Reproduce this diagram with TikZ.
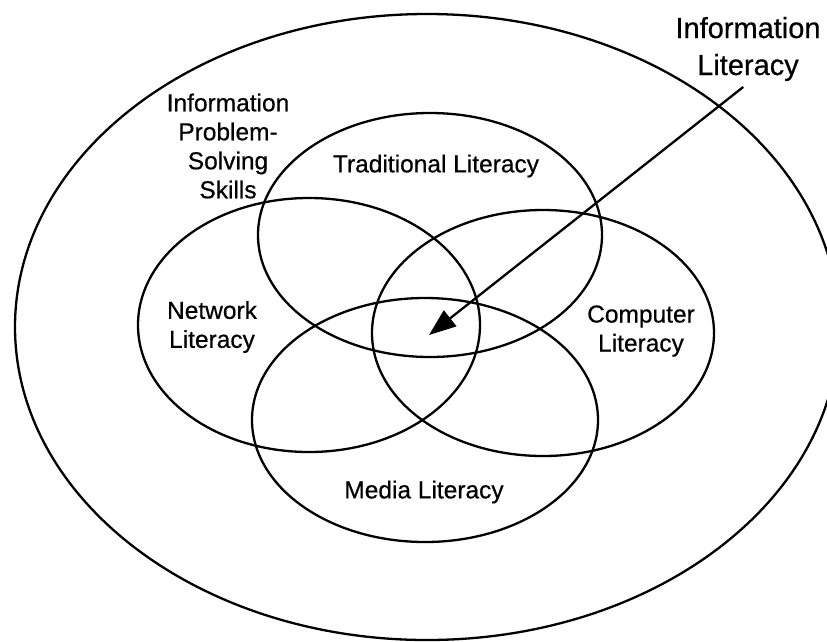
\documentclass[tikz,border=0pt]{standalone}
\usepackage{fontspec}
\setmainfont{Liberation Sans}
% slightly heavier strokes for the labels
\newfontfamily\labelfont{Liberation Sans}[FakeBold=0.5,
  UprightFeatures={FakeBold=0.5}]
\usetikzlibrary{shapes.geometric,arrows.meta}

\begin{document}
\begin{tikzpicture}[x=1pt,y=-1pt,
  ring/.style={ellipse, draw=black, line width=2.3pt, inner sep=0pt},
  label/.style={align=center, font=\labelfont\fontsize{24.5pt}{29pt}\selectfont, inner sep=0pt},
  biglabel/.style={align=center, font=\labelfont\fontsize{29pt}{37pt}\selectfont, inner sep=2pt},
  pointer/.style={line width=2.3pt, shorten <=6pt, -{Triangle[length=27pt,width=20pt]}}]

  % page frame
  \useasboundingbox (0,0) rectangle (827,641);

  % outer ring: problem-solving skills
  \node[ring, minimum width=824pt, minimum height=626pt] (skills) at (427,327) {};

  % the four literacies
  \node[ring, minimum width=344pt, minimum height=244pt] (trad) at (430,235) {};
  \node[ring, minimum width=342pt, minimum height=254pt] (net)  at (309,325) {};
  \node[ring, minimum width=342pt, minimum height=246pt] (comp) at (543,333) {};
  \node[ring, minimum width=346pt, minimum height=244pt] (media) at (425,420) {};

  % labels
  \node[label] (tradlbl)  at (436,166) {Traditional Literacy};
  \node[label] (skillslbl) at (228,146) {Information\\Problem-\\Solving\\Skills};
  \node[label] (netlbl)   at (212,327) {Network\\Literacy};
  \node[label] (complbl)  at (641,331) {Computer\\Literacy};
  \node[label] (medialbl) at (424,492) {Media Literacy};
  \node[biglabel] (infolit) at (748,49) {Information\\Literacy};

  % pointer to the common core
  \coordinate (core) at (429,335);
  \draw[pointer] (infolit.south) -- (core);
\end{tikzpicture}
\end{document}
